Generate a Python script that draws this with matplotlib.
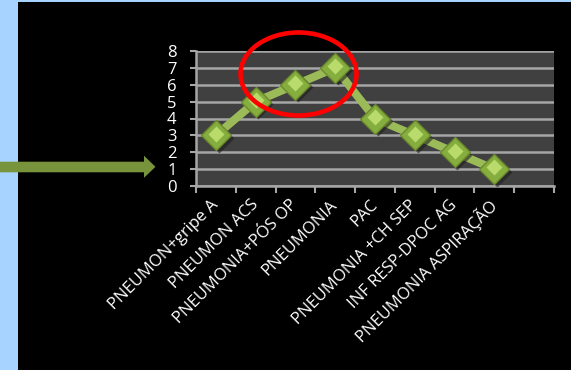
import matplotlib
matplotlib.use("Agg")
import matplotlib.pyplot as plt
from matplotlib.patches import Ellipse, Polygon, Rectangle

categories = ["PNEUMON+gripe A", "PNEUMON ACS", "PNEUMONIA+PÓS OP", "PNEUMONIA",
              "PAC", "PNEUMONIA +CH SEP", "INF RESP-DPOC AG", "PNEUMONIA ASPIRAÇÃO", ""]
values = [3, 5, 6, 7, 4, 3, 2, 1]
yticks = [0, 1, 2, 3, 4, 5, 6, 7, 8]

W, H = 571, 370
fig = plt.figure(figsize=(W / 100, H / 100), dpi=100)
fig.patch.set_facecolor("#A6D3FF")
plt.rcParams['font.family'] = ['Open Sans', 'DejaVu Sans']

def fx(px):
    return px / W

def fy(py):
    return 1 - py / H

# black slide area
fig.patches.append(Rectangle((fx(17.5), 0), 1 - fx(17.5), fy(2), transform=fig.transFigure,
                             facecolor="black", edgecolor="none", zorder=0))

ax = fig.add_axes([fx(196), fy(186), fx(554) - fx(196), fy(51) - fy(186)])
ax.set_facecolor("#404040")
ax.set_zorder(2)

x = list(range(len(values)))
ax.plot(x, values, color="#9BBB59", lw=5.8, solid_capstyle="butt", zorder=3)
ax.plot([xi + 0.07 for xi in x], [v - 0.15 for v in values], ls="none", marker="D",
        markersize=15, markerfacecolor="#1e1e1e", markeredgecolor="none", alpha=0.6, zorder=3.5)
ax.plot(x, values, ls="none", marker="D", markersize=15,
        markerfacecolor="#86AE3E", markeredgecolor="#6A8A2C", markeredgewidth=1.0, zorder=4)
ax.plot(x, [v + 0.1 for v in values], ls="none", marker="D", markersize=8,
        markerfacecolor="#B8DB6C", markeredgecolor="none", zorder=5)

ax.set_xlim(-0.5, len(categories) - 0.5)
ax.set_ylim(0, 8)
ax.set_yticks(yticks)
ax.set_yticklabels([str(t) for t in yticks], color="white", fontsize=12)
ax.yaxis.grid(True, color="#A6A6A6", lw=1.8)
ax.set_axisbelow(True)

ax.set_xticks(range(len(categories)))
ax.set_xticklabels(categories, rotation=45, ha="right", va="center", rotation_mode="anchor",
                   color="white", fontsize=12)
ax.set_xticks([i - 0.5 for i in range(len(categories) + 1)], minor=True)
ax.tick_params(axis="x", which="major", length=0, pad=12)
ax.tick_params(axis="x", which="minor", length=5, width=1.5, color="#A6A6A6", direction="out")
ax.tick_params(axis="y", length=4, width=1.5, color="#A6A6A6", pad=10)

for s in ["top", "right"]:
    ax.spines[s].set_visible(False)
for s in ["left", "bottom"]:
    ax.spines[s].set_color("#A6A6A6")
    ax.spines[s].set_linewidth(1.8)

# red ellipse highlight
fig.patches.append(Ellipse((fx(298.5), fy(74)), fx(116), 83 / H, transform=fig.transFigure,
                           facecolor="none", edgecolor="#FF0000", lw=3.3, zorder=10))

# green arrow
arrow_pts = [(0, 161.7), (144, 161.7), (144, 155.7), (155.5, 166.8),
             (144, 177.8), (144, 172.3), (0, 172.3)]
fig.patches.append(Polygon([(fx(a), fy(b)) for a, b in arrow_pts], closed=True,
                           transform=fig.transFigure, facecolor="#77933C", edgecolor="none",
                           zorder=10))

fig.savefig("out.png", dpi=100, facecolor=fig.get_facecolor())
